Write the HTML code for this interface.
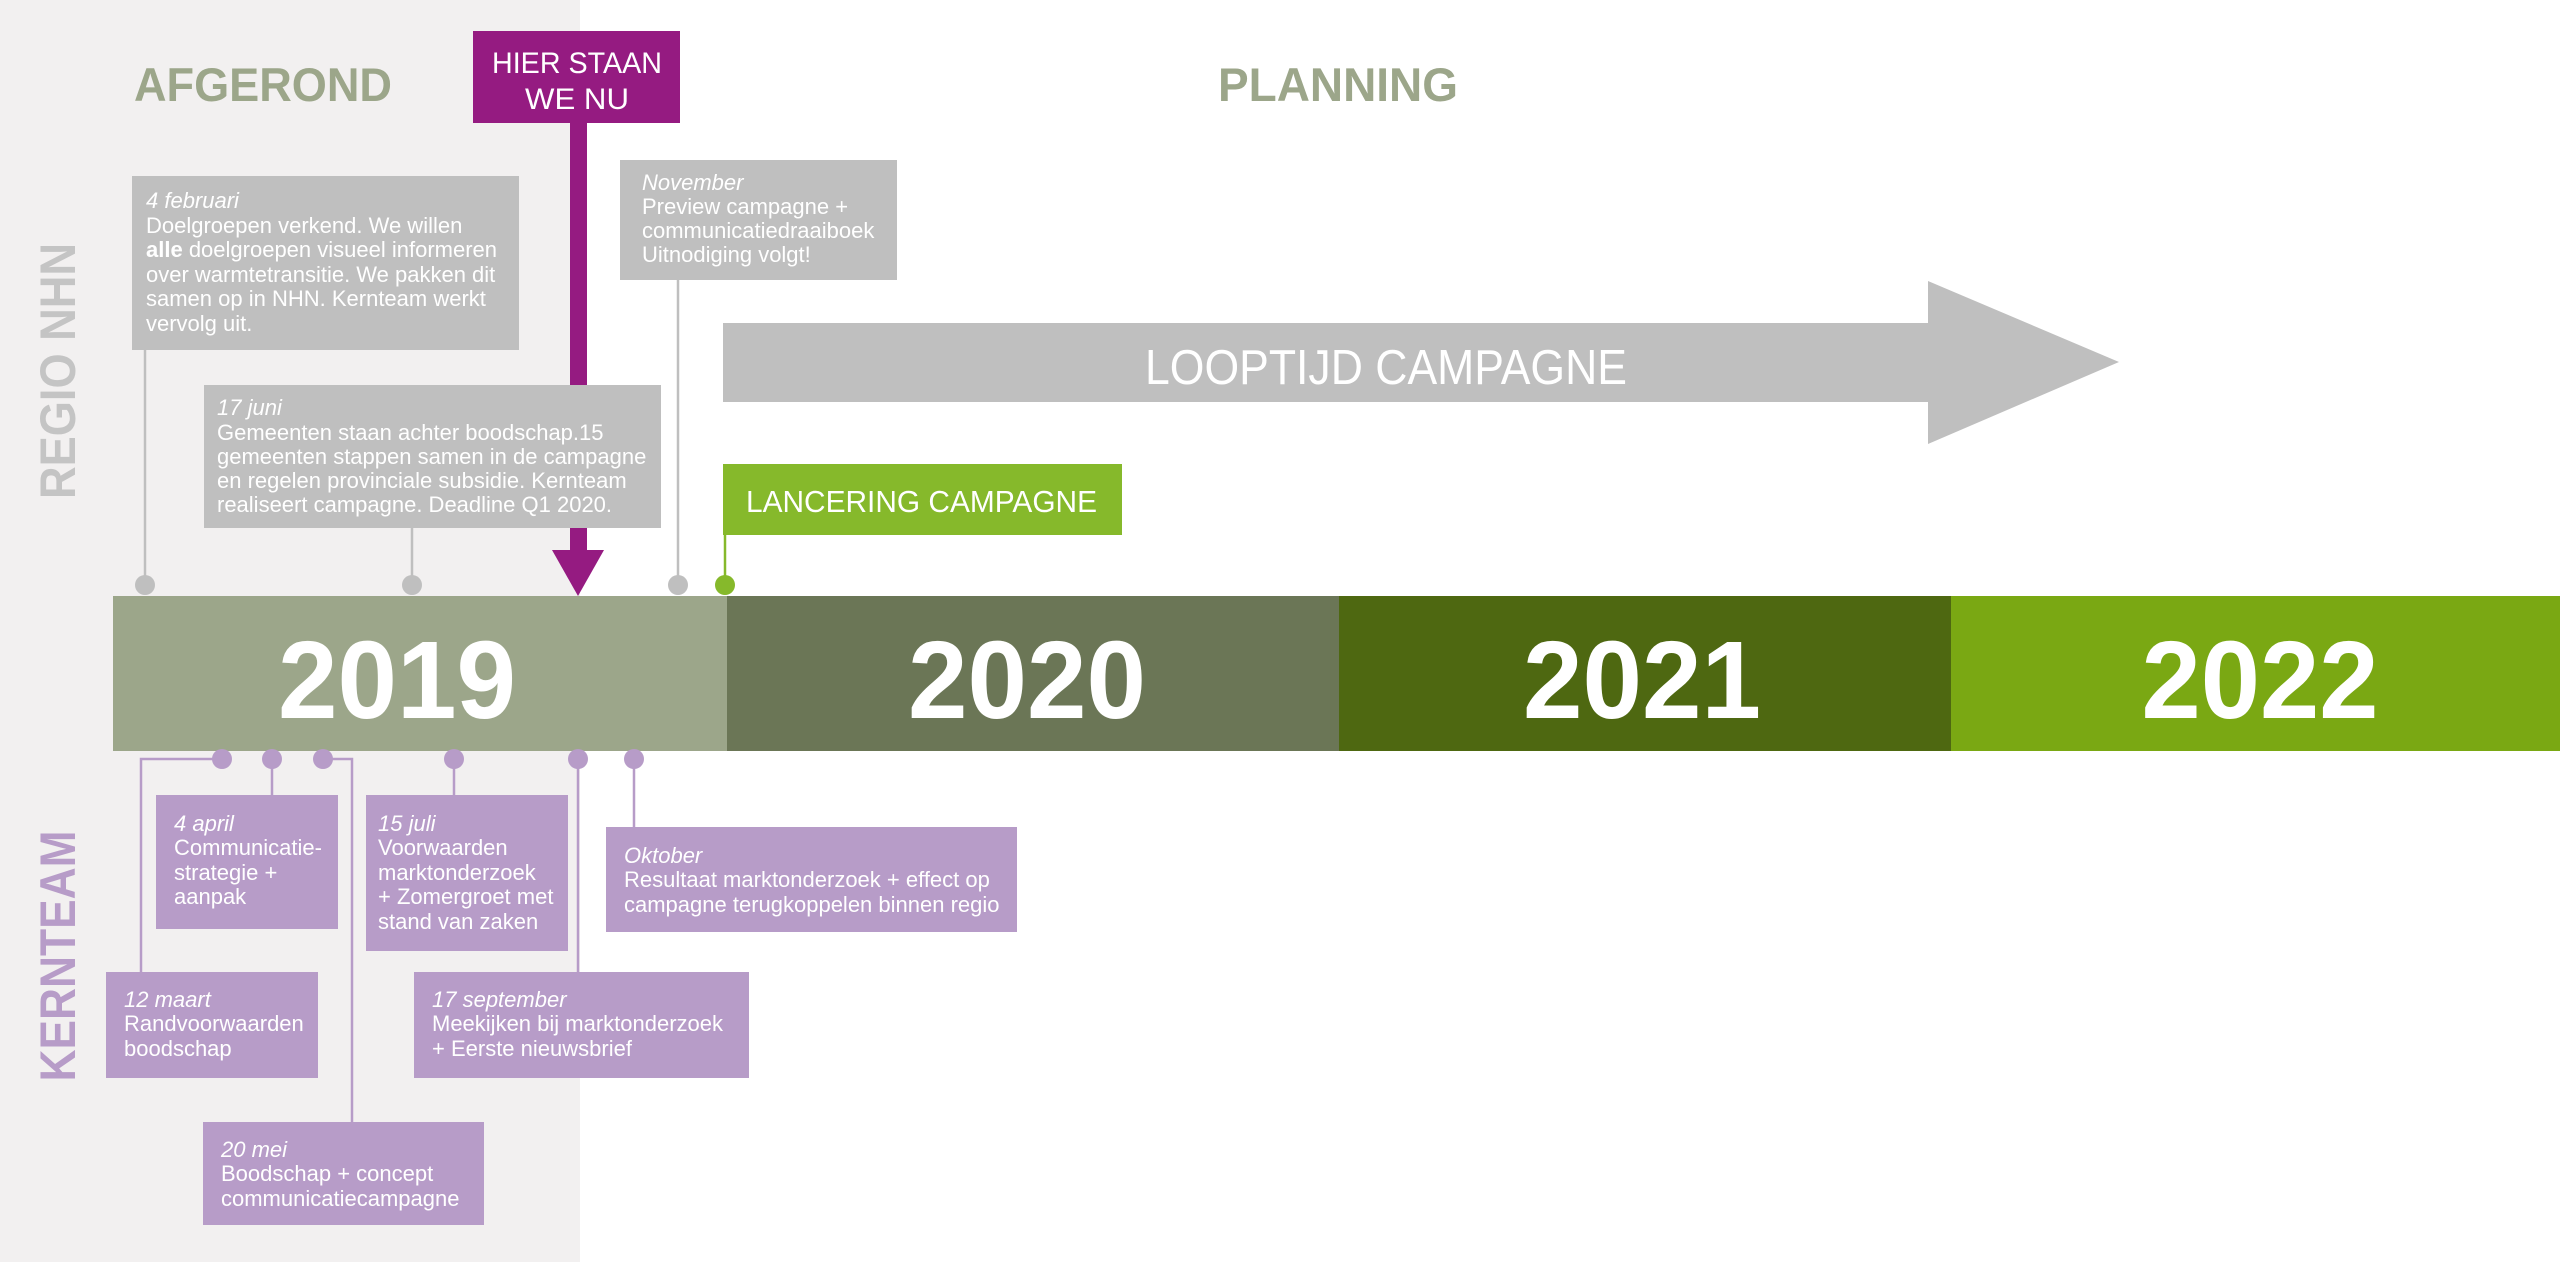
<!DOCTYPE html>
<html><head><meta charset="utf-8"><style>
html,body{margin:0;padding:0;background:#fff;}
svg{display:block;}
text{font-family:"Liberation Sans",Arial,sans-serif;}
.b{fill:#fff;font-size:22px;}
.i{font-style:italic;}
</style></head><body>
<svg width="2560" height="1262" viewBox="0 0 2560 1262" xmlns="http://www.w3.org/2000/svg">
<rect x="0" y="0" width="580" height="1262" fill="#f2f0f0"/>

<text x="134" y="101" font-size="47" font-weight="bold" fill="#9ca68a" textLength="258" lengthAdjust="spacingAndGlyphs">AFGEROND</text>
<text x="1218" y="101" font-size="47" font-weight="bold" fill="#9ca68a" textLength="240" lengthAdjust="spacingAndGlyphs">PLANNING</text>

<text transform="translate(75,371) rotate(-90)" text-anchor="middle" font-size="50" font-weight="bold" fill="#c4c4c4" textLength="256" lengthAdjust="spacingAndGlyphs">REGIO NHN</text>
<text transform="translate(75,956) rotate(-90)" text-anchor="middle" font-size="50" font-weight="bold" fill="#b79cc8" textLength="251" lengthAdjust="spacingAndGlyphs">KERNTEAM</text>

<rect x="570" y="123" width="17" height="430" fill="#951b81"/>
<polygon points="552,550 604,550 578,596" fill="#951b81"/>
<rect x="473" y="31" width="207" height="92" fill="#951b81"/>
<text x="577" y="73" text-anchor="middle" font-size="30" fill="#fff" textLength="170" lengthAdjust="spacingAndGlyphs">HIER STAAN</text>
<text x="577" y="109" text-anchor="middle" font-size="30" fill="#fff" textLength="104" lengthAdjust="spacingAndGlyphs">WE NU</text>

<g stroke="#bfbfbf" stroke-width="2.5" fill="none">
<line x1="145" y1="349" x2="145" y2="585"/>
<line x1="412" y1="527" x2="412" y2="585"/>
<line x1="678" y1="279" x2="678" y2="585"/>
</g>
<g fill="#bfbfbf">
<ellipse cx="145" cy="585" rx="10" ry="10"/>
<ellipse cx="412" cy="585" rx="10" ry="10"/>
<ellipse cx="678" cy="585" rx="10" ry="10"/>
</g>
<line x1="725" y1="534" x2="725" y2="585" stroke="#86b92b" stroke-width="2.5"/>
<ellipse cx="725" cy="585" rx="10" ry="10" fill="#86b92b"/>

<rect x="132" y="176" width="387" height="174" fill="#bfbfbf"/>
<text class="b i" x="146" y="208">4 februari</text>
<text class="b" x="146" y="233">Doelgroepen verkend. We willen</text>
<text class="b" x="146" y="257"><tspan font-weight="bold">alle</tspan> doelgroepen visueel informeren</text>
<text class="b" x="146" y="282">over warmtetransitie. We pakken dit</text>
<text class="b" x="146" y="306">samen op in NHN. Kernteam werkt</text>
<text class="b" x="146" y="331">vervolg uit.</text>

<rect x="204" y="385" width="457" height="143" fill="#bfbfbf"/>
<text class="b i" x="217" y="415">17 juni</text>
<text class="b" x="217" y="440">Gemeenten staan achter boodschap.15</text>
<text class="b" x="217" y="464">gemeenten stappen samen in de campagne</text>
<text class="b" x="217" y="488">en regelen provinciale subsidie. Kernteam</text>
<text class="b" x="217" y="512">realiseert campagne. Deadline Q1 2020.</text>

<rect x="620" y="160" width="277" height="120" fill="#bfbfbf"/>
<text class="b i" x="642" y="190">November</text>
<text class="b" x="642" y="214">Preview campagne +</text>
<text class="b" x="642" y="238">communicatiedraaiboek</text>
<text class="b" x="642" y="262">Uitnodiging volgt!</text>

<polygon points="723,323 1928,323 1928,281 2119,362 1928,444 1928,402 723,402" fill="#bfbfbf"/>
<text x="1145" y="384" font-size="49" fill="#fff" textLength="482" lengthAdjust="spacingAndGlyphs">LOOPTIJD CAMPAGNE</text>

<rect x="723" y="464" width="399" height="71" fill="#86b92b"/>
<text x="746" y="512" font-size="31" fill="#fff" textLength="351" lengthAdjust="spacingAndGlyphs">LANCERING CAMPAGNE</text>

<rect x="113" y="596" width="614" height="155" fill="#9ca68a"/>
<rect x="727" y="596" width="612" height="155" fill="#6b7656"/>
<rect x="1339" y="596" width="612" height="155" fill="#4e6811"/>
<rect x="1951" y="596" width="609" height="155" fill="#7aa813"/>
<g font-size="110" font-weight="bold" fill="#fff" text-anchor="middle">
<text x="397" y="718" textLength="238" lengthAdjust="spacingAndGlyphs">2019</text>
<text x="1027" y="718" textLength="238" lengthAdjust="spacingAndGlyphs">2020</text>
<text x="1642" y="718" textLength="238" lengthAdjust="spacingAndGlyphs">2021</text>
<text x="2260" y="718" textLength="237" lengthAdjust="spacingAndGlyphs">2022</text>
</g>

<g stroke="#b79cc8" stroke-width="2.5" fill="none">
<polyline points="222,759 141,759 141,972"/>
<line x1="272" y1="759" x2="272" y2="795"/>
<polyline points="323,759 352,759 352,1122"/>
<line x1="454" y1="759" x2="454" y2="795"/>
<line x1="578" y1="759" x2="578" y2="972"/>
<line x1="634" y1="759" x2="634" y2="827"/>
</g>
<g fill="#b79cc8">
<ellipse cx="222" cy="759" rx="10" ry="10"/>
<ellipse cx="272" cy="759" rx="10" ry="10"/>
<ellipse cx="323" cy="759" rx="10" ry="10"/>
<ellipse cx="454" cy="759" rx="10" ry="10"/>
<ellipse cx="578" cy="759" rx="10" ry="10"/>
<ellipse cx="634" cy="759" rx="10" ry="10"/>
</g>

<g fill="#b79cc8">
<rect x="106" y="972" width="212" height="106"/>
<rect x="156" y="795" width="182" height="134"/>
<rect x="203" y="1122" width="281" height="103"/>
<rect x="366" y="795" width="202" height="156"/>
<rect x="414" y="972" width="335" height="106"/>
<rect x="606" y="827" width="411" height="105"/>
</g>

<text class="b i" x="124" y="1007">12 maart</text>
<text class="b" x="124" y="1031">Randvoorwaarden</text>
<text class="b" x="124" y="1056">boodschap</text>

<text class="b i" x="174" y="831">4 april</text>
<text class="b" x="174" y="855">Communicatie-</text>
<text class="b" x="174" y="880">strategie +</text>
<text class="b" x="174" y="904">aanpak</text>

<text class="b i" x="221" y="1157">20 mei</text>
<text class="b" x="221" y="1181">Boodschap + concept</text>
<text class="b" x="221" y="1206">communicatiecampagne</text>

<text class="b i" x="378" y="831">15 juli</text>
<text class="b" x="378" y="855">Voorwaarden</text>
<text class="b" x="378" y="880">marktonderzoek</text>
<text class="b" x="378" y="904">+ Zomergroet met</text>
<text class="b" x="378" y="929">stand van zaken</text>

<text class="b i" x="432" y="1007">17 september</text>
<text class="b" x="432" y="1031">Meekijken bij marktonderzoek</text>
<text class="b" x="432" y="1056">+ Eerste nieuwsbrief</text>

<text class="b i" x="624" y="863">Oktober</text>
<text class="b" x="624" y="887">Resultaat marktonderzoek + effect op</text>
<text class="b" x="624" y="912">campagne terugkoppelen binnen regio</text>
</svg>
</body></html>
